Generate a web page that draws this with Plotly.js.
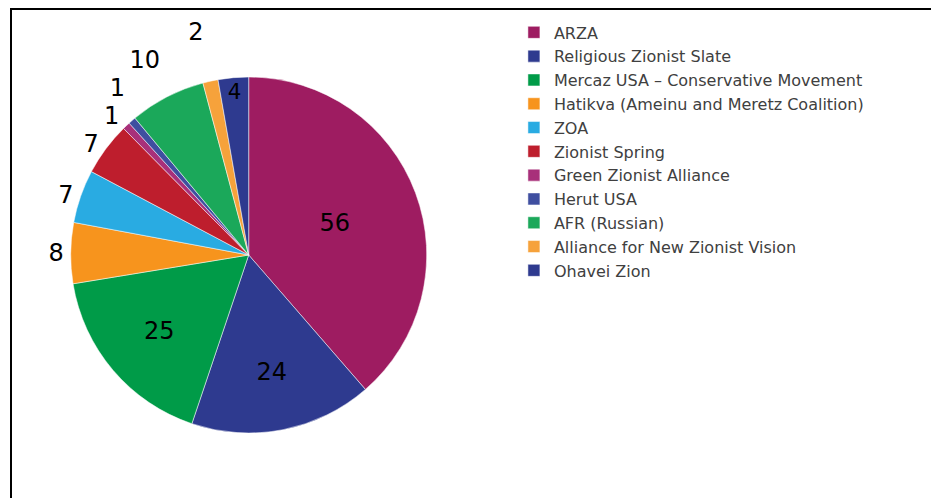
<!DOCTYPE html>
<html>
<head>
<meta charset="utf-8">
<script src="https://cdn.plot.ly/plotly-3.0.1.min.js"></script>
<style>
  html, body { margin: 0; padding: 0; background: #fff; }
  #wrap { position: relative; width: 931px; height: 498px; overflow: hidden; }
  #frame { position: absolute; left: 10px; top: 8px; width: 940px; height: 520px;
           border-left: 2px solid #000; border-top: 2px solid #000; box-sizing: border-box; pointer-events: none; }
  #chart { position: absolute; left: 0; top: 0; width: 931px; height: 498px; }
  #chart path.textline { display: none; }
</style>
</head>
<body>
<div id="wrap">
  <div id="chart"></div>
  <div id="frame"></div>
</div>
<script>
const categories = [
  "ARZA",
  "Religious Zionist Slate",
  "Mercaz USA – Conservative Movement",
  "Hatikva (Ameinu and Meretz Coalition)",
  "ZOA",
  "Zionist Spring",
  "Green Zionist Alliance",
  "Herut USA",
  "AFR (Russian)",
  "Alliance for New Zionist Vision",
  "Ohavei Zion"
];
const seats = [56, 24, 25, 8, 7, 7, 1, 1, 10, 2, 4];
const sliceColors = ["#9E1C61", "#2E3A8F", "#009B48", "#F7941D", "#29ABE2", "#BE1E2D",
                     "#A8307A", "#3F4FA0", "#1BA85A", "#F6A23B", "#2E3A8F"];
const labelPositions = ["inside", "inside", "inside", "outside", "outside", "outside",
                        "outside", "outside", "outside", "outside", "inside"];

const cx = 248.7, cy = 255, r = 178, W = 931, H = 498;

const trace = {
  type: "pie",
  labels: categories,
  values: seats,
  text: seats.map(String),
  textinfo: "text",
  hoverinfo: "label+value",
  sort: false,
  direction: "clockwise",
  rotation: 0,
  textposition: labelPositions,
  insidetextorientation: "horizontal",
  insidetextfont: { family: "DejaVu Sans", size: 24, color: "#000" },
  outsidetextfont: { family: "DejaVu Sans", size: 24, color: "#000" },
  marker: { colors: sliceColors, line: { color: "#ffffff", width: 0.5 } },
  domain: {
    x: [(cx - r) / W, (cx + r) / W],
    y: [(H - cy - r) / H, (H - cy + r) / H]
  }
};

const layout = {
  width: W,
  height: H,
  margin: { l: 0, r: 0, t: 0, b: 0 },
  paper_bgcolor: "#fff",
  showlegend: true,
  legend: {
    x: 0.552, y: 0.969, xanchor: "left", yanchor: "top",
    font: { family: "DejaVu Sans", size: 16, color: "#404040" },
    tracegroupgap: 0,
    itemwidth: 30
  }
};

Plotly.newPlot("chart", [trace], layout, { displayModeBar: false, staticPlot: true });
</script>
</body>
</html>
